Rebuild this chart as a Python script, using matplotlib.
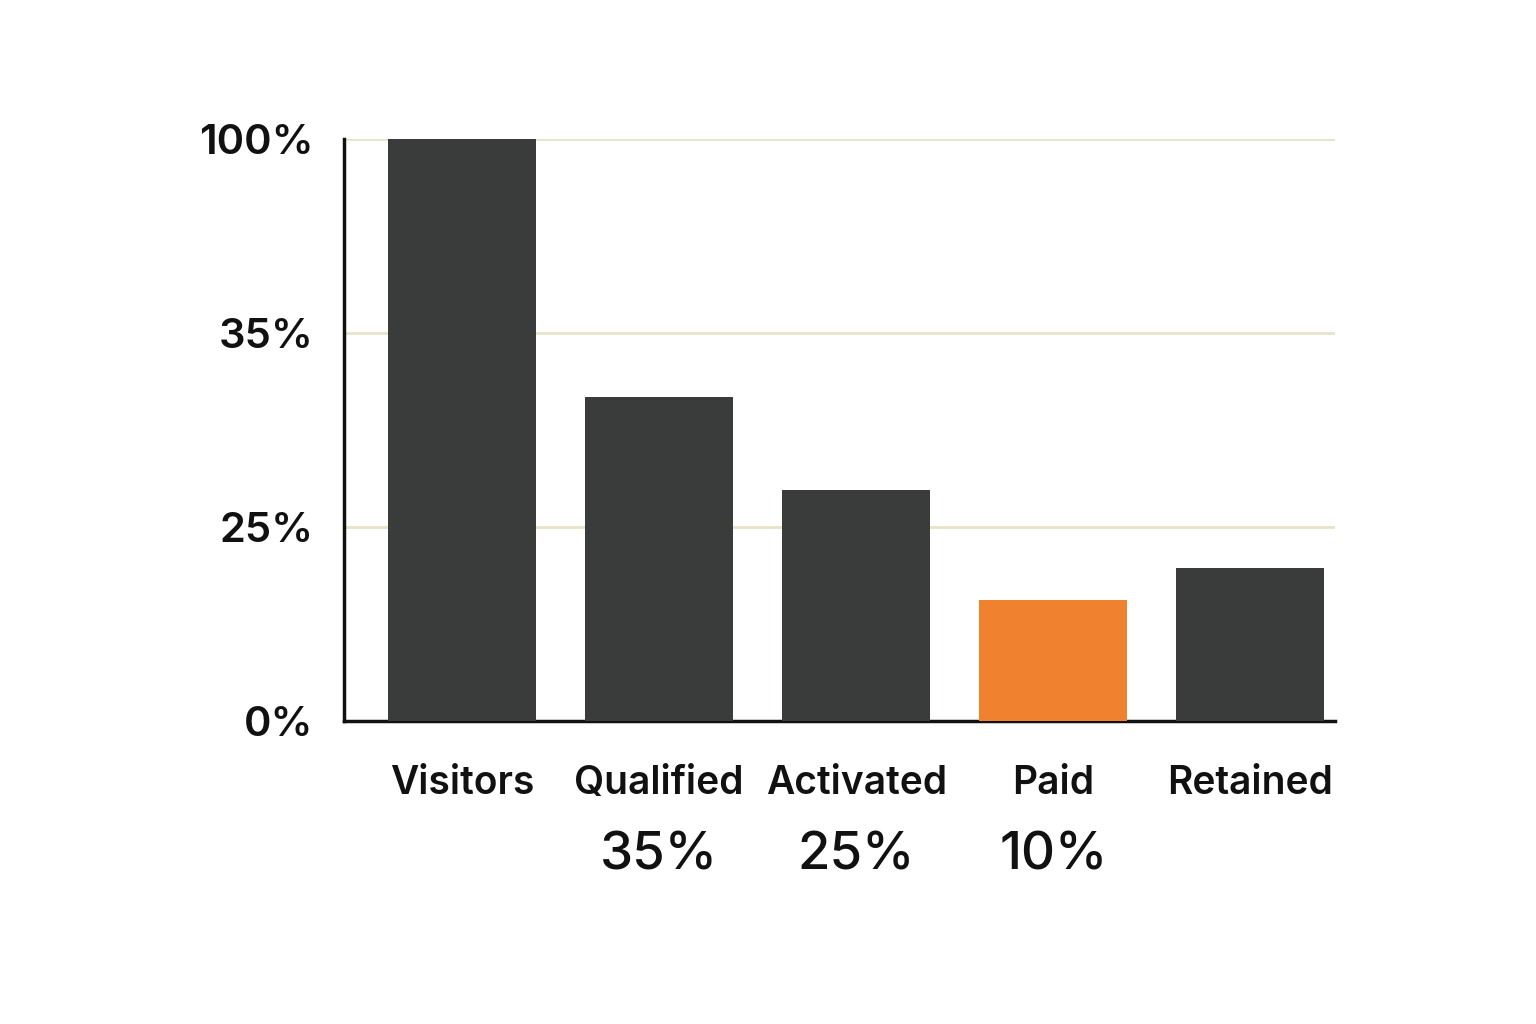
import numpy as np
import matplotlib
matplotlib.use("Agg")
import matplotlib.pyplot as plt

categories = ["Visitors", "Qualified", "Activated", "Paid", "Retained"]
values = [100, 31.7, 26.9, 15.6, 19.7]
highlight = "Paid"
tick_values = [0, 25, 35, 100]
tick_labels = ["0%", "25%", "35%", "100%"]
bottom_labels = {"Qualified": "35%", "Activated": "25%", "Paid": "10%"}

tv = np.array(tick_values, float)
pos = np.arange(len(tv), dtype=float)
fwd = lambda v: np.interp(v, tv, pos)
inv = lambda p: np.interp(p, pos, tv)

plt.rcParams['font.family'] = ['Inter', 'DejaVu Sans']
fig = plt.figure(figsize=(15.36, 10.24), dpi=100)
ax = fig.add_axes([0.224, 0.296, 0.645, 0.568])
ax.set_yscale('function', functions=(fwd, inv))
ax.set_ylim(0, 100)
x = np.arange(len(categories))
colors = ["#f0812f" if c == highlight else "#3a3c3c" for c in categories]
ax.bar(x, values, width=0.75, color=colors, zorder=3)
ax.set_xlim(-0.6, 4.43)
ax.set_yticks(tick_values)
ax.set_yticklabels(tick_labels, fontsize=30, fontweight='semibold', color='#111111')
ax.yaxis.grid(True, color='#e8e2c8', linewidth=2, zorder=0)
ax.set_xticks(x)
ax.set_xticklabels(categories, fontsize=28, fontweight='semibold', color='#111111')
ax.tick_params(axis='both', length=0, pad=22)
ax.tick_params(axis='x', pad=32)
for s in ['top', 'right']:
    ax.spines[s].set_visible(False)
for s in ['left', 'bottom']:
    ax.spines[s].set_linewidth(2.5)
    ax.spines[s].set_color('#111111')
for i, c in enumerate(categories):
    if c in bottom_labels:
        ax.annotate(bottom_labels[c], xy=(i, 0), xycoords=('data', 'data'),
                    xytext=(0, -135), textcoords='offset pixels', ha='center', va='center',
                    fontsize=38, fontweight='medium', color='#111111')
fig.savefig("out.png", dpi=100, facecolor='white')
